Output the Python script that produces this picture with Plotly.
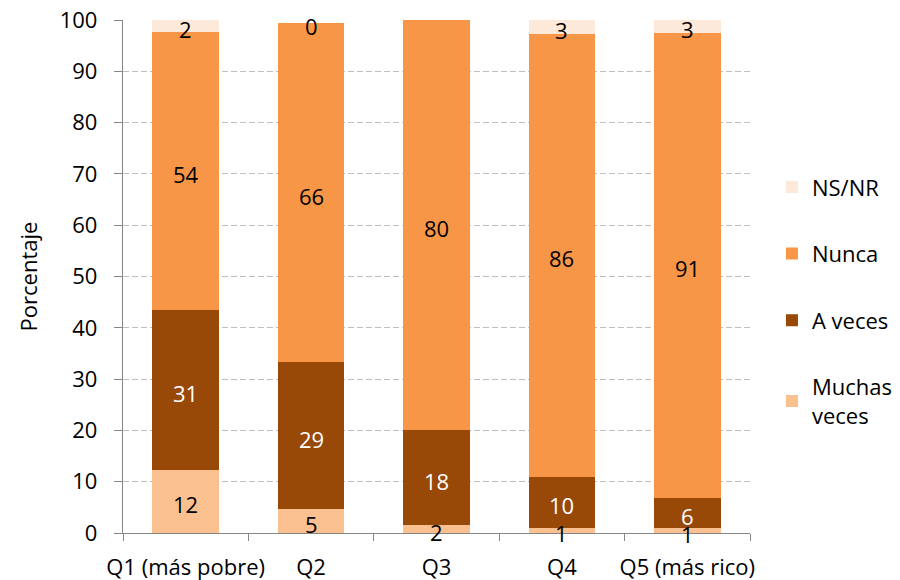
import plotly.graph_objects as go

categories = ["Q1 (más pobre)", "Q2", "Q3", "Q4", "Q5 (más rico)"]
muchas = [12.3, 4.7, 1.6, 1.0, 0.9]
a_veces = [31.2, 28.6, 18.4, 9.9, 6.0]
nunca = [54.1, 66.1, 80.0, 86.4, 90.6]
nsnr = [2.4, 0.0, None, 2.7, 2.6]
y_ticks = [0, 10, 20, 30, 40, 50, 60, 70, 80, 90, 100]

series = [
    ("Muchas<br>veces", muchas, "#FAC090", "black", 4),
    ("A veces", a_veces, "#984807", "white", 3),
    ("Nunca", nunca, "#F79646", "black", 2),
    ("NS/NR", nsnr, "#FDE9D9", "black", 1),
]

FONT = "Open Sans"
FS = 22
fig = go.Figure()
base = [0.0] * len(categories)
for i, (name, vals, color, tcol, rank) in enumerate(series):
    v = [x if x is not None else 0 for x in vals]
    fig.add_trace(go.Bar(
        x=categories, y=v, name=name, marker=dict(color=color, line=dict(width=0)),
        legendgroup=str(i), legendrank=rank, hoverinfo="skip",
    ))
    for c, b, x in zip(categories, base, vals):
        if x is not None:
            fig.add_annotation(x=c, y=b + x / 2, text=f"{round(x):d}", showarrow=False,
                               yshift=-3, font=dict(family=FONT, size=FS, color=tcol))
    base = [b + x for b, x in zip(base, v)]

fig.update_layout(
    barmode="stack", bargap=0.47,
    width=900, height=580,
    margin=dict(l=115, r=158, t=12, b=55, autoexpand=False),
    paper_bgcolor="white", plot_bgcolor="white",
    font=dict(family=FONT, size=FS, color="black"),
    legend=dict(traceorder="grouped", tracegroupgap=35, x=1.035, xanchor="left",
                y=0.715, yanchor="top", font=dict(family=FONT, size=22),
                itemwidth=30),
    showlegend=True,
)
fig.update_yaxes(range=[0, 100], tickmode="array", tickvals=y_ticks,
                 showgrid=True, gridcolor="#BFBFBF", griddash="6px,3px",
                 gridwidth=1, showline=True, linecolor="#868686", linewidth=1.3, ticks="outside",
                 ticklen=8, tickcolor="#868686", zeroline=False, automargin=False,
                 ticklabelstandoff=12, ticklabeloverflow="allow",
                 title=dict(text="Porcentaje", font=dict(family=FONT, size=FS), standoff=16))
fig.update_xaxes(showline=True, linecolor="#868686", linewidth=1.3, ticks="outside", ticklen=7,
                 tickcolor="#868686", tickson="boundaries", showgrid=False, tickangle=0,
                 automargin=False, ticklabelstandoff=14, ticklabeloverflow="allow")

fig.write_html("out.html")
